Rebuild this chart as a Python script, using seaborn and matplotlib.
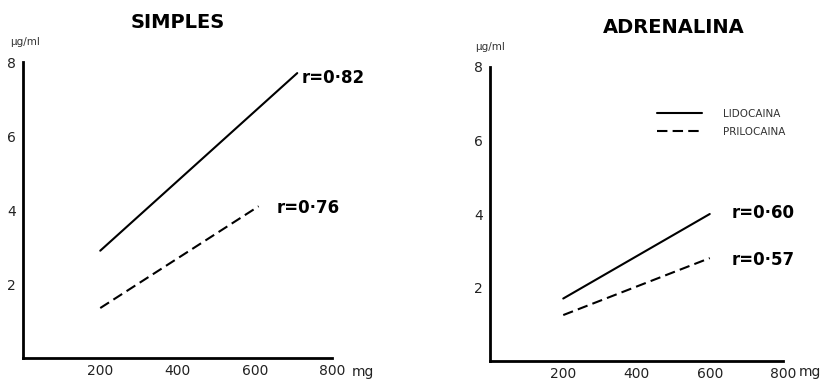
import matplotlib
matplotlib.use("Agg")
import matplotlib.pyplot as plt
import seaborn as sns
import pandas as pd

# ---- data ----
drugs = ["LIDOCAINA", "PRILOCAINA"]
simples_dose_lido = [200, 710]
simples_conc_lido = [2.9, 7.7]
simples_dose_prilo = [200, 610]
simples_conc_prilo = [1.35, 4.1]
adren_dose_lido = [200, 600]
adren_conc_lido = [1.7, 4.0]
adren_dose_prilo = [200, 600]
adren_conc_prilo = [1.25, 2.8]
r_simples = ["r=0·82", "r=0·76"]
r_adren = ["r=0·60", "r=0·57"]
titles = ["SIMPLES", "ADRENALINA"]
x_ticks = [200, 400, 600, 800]
y_ticks = [2, 4, 6, 8]
y_unit = "µg/ml"
x_unit = "mg"

df_s = pd.DataFrame({
    "dose": simples_dose_lido + simples_dose_prilo,
    "conc": simples_conc_lido + simples_conc_prilo,
    "drug": [drugs[0]] * 2 + [drugs[1]] * 2,
})
df_a = pd.DataFrame({
    "dose": adren_dose_lido + adren_dose_prilo,
    "conc": adren_conc_lido + adren_conc_prilo,
    "drug": [drugs[0]] * 2 + [drugs[1]] * 2,
})

sns.set_theme(style="white")
plt.rcParams["font.family"] = ["DejaVu Sans"]
plt.rcParams["text.color"] = "black"

fig = plt.figure(figsize=(8.4, 3.84), dpi=100)
ax1 = fig.add_axes([23/840, 1-358/384, (332-23)/840, (358-62)/384])
ax2 = fig.add_axes([490/840, 1-361/384, (783-490)/840, (361-67)/384])

dash_map = {drugs[0]: "", drugs[1]: (5, 2.5)}

for ax, df, show_leg in [(ax1, df_s, False), (ax2, df_a, True)]:
    sns.lineplot(data=df, x="dose", y="conc", style="drug", dashes=dash_map,
                 color="black", linewidth=1.5, ax=ax, legend=show_leg,
                 style_order=drugs)
    ax.set_xlim(0, 800)
    ax.set_ylim(0, 8)
    ax.set_xticks(x_ticks)
    ax.set_yticks(y_ticks)
    ax.set_xlabel("")
    ax.set_ylabel("")
    for s in ["top", "right"]:
        ax.spines[s].set_visible(False)
    for s in ["left", "bottom"]:
        ax.spines[s].set_color("black")
        ax.spines[s].set_linewidth(2.0)
    ax.tick_params(axis="x", direction="in", length=6, width=1.2, pad=4.5,
                   labelsize=10, colors="black", labelcolor="#222222")
    ax.tick_params(axis="y", direction="in", length=5, width=1.2, pad=5,
                   labelsize=10, colors="black", labelcolor="#222222")
    ax.patch.set_alpha(0)

# titles
ax1.text(0.50, 1.135, titles[0], transform=ax1.transAxes, ha="center", va="center",
         fontsize=14, fontweight="bold", color="black")
ax2.text(0.628, 1.133, titles[1], transform=ax2.transAxes, ha="center", va="center",
         fontsize=14, fontweight="bold", color="black")

# units
ax1.text(-0.042, 1.067, y_unit, transform=ax1.transAxes, ha="left", va="center",
         fontsize=7.5, color="#333333")
ax2.text(-0.051, 1.068, y_unit, transform=ax2.transAxes, ha="left", va="center",
         fontsize=7.5, color="#333333")
ax1.text(852, -14/296, x_unit, transform=ax1.get_xaxis_transform(), ha="left", va="center",
         fontsize=10, color="#222222", clip_on=False)
ax2.text(842, -11/294, x_unit, transform=ax2.get_xaxis_transform(), ha="left", va="center",
         fontsize=10, color="#222222", clip_on=False)

# r labels
ax1.text(722, 7.57, r_simples[0], ha="left", va="center", fontsize=12, fontweight="bold", color="black")
ax1.text(657, 4.05, r_simples[1], ha="left", va="center", fontsize=12, fontweight="bold", color="black")
ax2.text(661, 4.03, r_adren[0], ha="left", va="center", fontsize=12, fontweight="bold", color="black", clip_on=False)
ax2.text(661, 2.75, r_adren[1], ha="left", va="center", fontsize=12, fontweight="bold", color="black", clip_on=False)

# legend
handles, labels = ax2.get_legend_handles_labels()
ax2.legend(handles, labels, loc="upper left", bbox_to_anchor=(657/840, 1-109/384),
           bbox_transform=fig.transFigure, frameon=False, fontsize=7.5,
           handlelength=4.3, handletextpad=2.0, labelspacing=0.75,
           borderpad=0, borderaxespad=0, labelcolor="#333333")

fig.savefig("out.png", dpi=100)
